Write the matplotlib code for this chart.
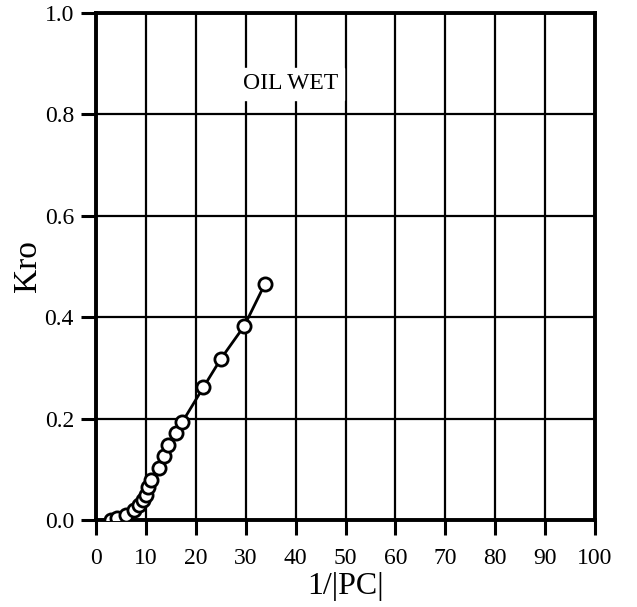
import matplotlib.pyplot as plt
import numpy as np

plt.rcParams['font.family'] = ['Liberation Serif', 'DejaVu Serif']

# data
inv_pc = [3.0, 4.2, 5.9, 7.6, 8.5, 9.4, 9.9, 10.4, 11.0, 12.6, 13.6, 14.3,
          16.1, 17.3, 21.5, 25.0, 29.7, 33.8]
kro = [0.0, 0.005, 0.010, 0.020, 0.030, 0.040, 0.050, 0.065, 0.080, 0.103,
       0.126, 0.148, 0.172, 0.194, 0.262, 0.318, 0.383, 0.465]
x_ticks = [0, 10, 20, 30, 40, 50, 60, 70, 80, 90, 100]
y_ticks = [0.0, 0.2, 0.4, 0.6, 0.8, 1.0]

fig = plt.figure(figsize=(6.37, 6.07), dpi=100)
ax = fig.add_axes([0.151, 0.143, 0.783, 0.836])

ax.plot(inv_pc, kro, '-', color='black', linewidth=2, marker='o',
        markersize=9.5, markerfacecolor='white', markeredgecolor='black',
        markeredgewidth=2, zorder=3)

ax.set_xlim(0, 100)
ax.set_ylim(0, 1.0)
ax.set_xticks(x_ticks)
ax.set_yticks(y_ticks)
ax.set_yticklabels(['%.1f' % v for v in y_ticks])
ax.grid(True, color='black', linewidth=1.6)
ax.tick_params(direction='out', length=11, width=2.2, labelsize=17)
ax.tick_params(axis='x', pad=9)
ax.tick_params(axis='y', pad=5)
for s in ax.spines.values():
    s.set_linewidth(2.8)

ax.set_xlabel('1/|PC|', fontsize=23, labelpad=2)
ax.set_ylabel('Kro', fontsize=24, labelpad=1)
ax.text(39, 0.86, 'OIL WET', fontsize=17, ha='center', va='center',
        backgroundcolor='white')

plt.savefig('out.png', dpi=100)
